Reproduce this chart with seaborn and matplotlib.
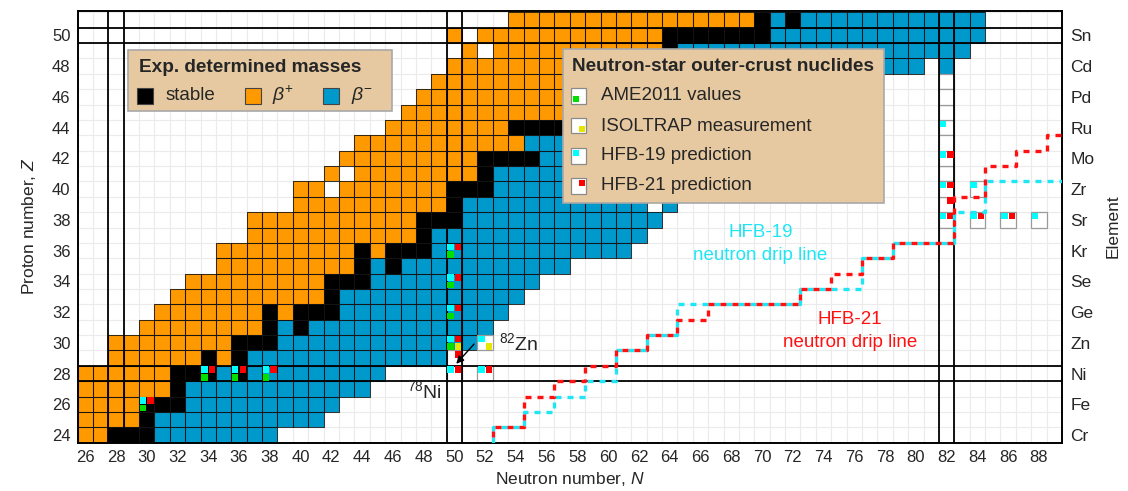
import numpy as np
import pandas as pd
import matplotlib
matplotlib.use("Agg")
import matplotlib.pyplot as plt
import seaborn as sns
from matplotlib.colors import ListedColormap
from matplotlib.patches import Rectangle
from matplotlib.collections import PatchCollection

# ---------------- data ----------------
Z_list = list(range(24, 52))
N_list = list(range(26, 90))

first_N = [26, 26, 26, 26, 26, 28, 28, 30, 31, 32, 33, 35, 35, 37,
           37, 40, 40, 42, 43, 44, 46, 47, 48, 49, 50, 51, 50, 54]
last_N = [38, 41, 42, 44, 45, 49, 51, 52, 53, 54, 55, 57, 61, 62,
          63, 64, 66, 67, 69, 70, 72, 74, 76, 77, 82, 83, 84, 84]
beta_minus_from = [31, 31, 33, 33, 35, 37, 39, 39, 43, 43, 45, 45, 49, 49,
                   51, 51, 53, 53, 56, 55, 59, 59, 61, 61, 65, 65, 71, 71]
stable_N = {24: [28, 29, 30], 25: [30], 26: [30, 31, 32], 27: [32],
            28: [32, 33, 34, 36], 29: [34, 36], 30: [36, 37, 38], 31: [38, 40],
            32: [38, 40, 41, 42], 33: [42], 34: [42, 43, 44], 35: [44, 46],
            36: [44, 46, 47, 48], 37: [48], 38: [48, 49, 50], 39: [50],
            40: [50, 51, 52], 41: [52], 42: [52, 53, 54, 55], 43: [],
            44: [54, 55, 56, 57, 58], 45: [58], 46: [58, 59, 60, 62],
            47: [60, 62], 48: [60, 62, 63, 64], 49: [64],
            50: [64, 65, 66, 67, 68, 69, 70], 51: [70, 72]}
missing_N = {39: [63], 40: [42], 41: [43], 48: [81], 49: [52], 50: [51]}

element_Z = [24, 26, 28, 30, 32, 34, 36, 38, 40, 42, 44, 46, 48, 50]
element_names = ["Cr", "Fe", "Ni", "Zn", "Ge", "Se", "Kr", "Sr", "Zr", "Mo",
                 "Ru", "Pd", "Cd", "Sn"]
x_ticks = list(range(26, 89, 2))
y_ticks = list(range(24, 51, 2))

# outer-crust nuclides (N, Z)
ame2011 = [(30, 26), (34, 28), (36, 28), (38, 28), (50, 30), (50, 32), (50, 34), (50, 36)]
isoltrap = [(50, 30), (52, 30)]
hfb19 = [(30, 26), (34, 28), (36, 28), (38, 28), (50, 28), (52, 28), (50, 30), (52, 30),
         (50, 32), (50, 34), (50, 36), (82, 38), (84, 38), (86, 38), (88, 38),
         (82, 40), (84, 40), (82, 42), (82, 44)]
hfb21 = [(30, 26), (34, 28), (36, 28), (38, 28), (50, 28), (52, 28), (50, 29), (50, 30),
         (50, 32), (50, 34), (50, 36), (82, 38), (84, 38), (86, 38), (82, 39),
         (82, 40), (82, 42)]
n82_column_Z = list(range(37, 48))

# neutron drip lines: step positions (N) and Z level reached at each step
hfb21_step_N = [52.5, 54.5, 56.5, 58.5, 60.5, 62.5, 64.5, 66.5, 72.5, 74.5, 76.5,
                78.5, 82.5, 84.5, 86.5, 88.5]
hfb21_step_Z = [24.5, 26.5, 27.5, 28.5, 29.5, 30.5, 31.5, 32.5, 33.5, 34.5, 35.5,
                36.5, 39.5, 41.5, 42.5, 43.5]
hfb19_step_N = [52.5, 54.5, 56.5, 58.5, 60.5, 62.5, 64.5, 72.5, 76.5, 78.5, 82.5, 84.5]
hfb19_step_Z = [24.5, 25.5, 26.5, 27.5, 29.5, 30.5, 32.5, 33.5, 35.5, 36.5, 38.5, 40.5]

magic_N = [28, 50, 82]
magic_Z = [28, 50]

# ---------------- style ----------------
ORANGE = "#ff9900"
BLUE = "#0099cc"
TAN = "#e6c9a1"
CYAN = "#00ffff"
RED = "#ff0000"
GREEN = "#00e000"
YELLOW = "#e6e600"
DRIP_CYAN = "#1ee6f5"
DRIP_RED = "#ff1111"

sns.set_theme(style="white")
plt.rcParams["font.family"] = ["Liberation Sans", "DejaVu Sans"]
plt.rcParams["mathtext.fontset"] = "custom"
plt.rcParams["mathtext.rm"] = "Liberation Sans"
plt.rcParams["mathtext.it"] = "Liberation Sans:italic"
plt.rcParams["mathtext.bf"] = "Liberation Sans:bold"

W, H = 1128, 491
fig = plt.figure(figsize=(W / 100, H / 100), dpi=100)
ax_l, ax_r, ax_b, ax_t = 77.5, 1062.0, 442.7, 10.5
ax = fig.add_axes([ax_l / W, 1 - ax_b / H, (ax_r - ax_l) / W, (ax_b - ax_t) / H])


def fx(n):
    return n - 25.5


def fy(z):
    return 51.5 - z


# grid of measured nuclides
grid = pd.DataFrame(np.nan, index=Z_list[::-1], columns=N_list)
for z, n0, n1, bm in zip(Z_list, first_N, last_N, beta_minus_from):
    for n in range(n0, n1 + 1):
        if n in missing_N.get(z, []):
            continue
        if n in stable_N[z]:
            v = 0
        elif n < bm:
            v = 1
        else:
            v = 2
        grid.loc[z, n] = v

sns.heatmap(grid, ax=ax, cmap=ListedColormap(["black", ORANGE, BLUE]),
            vmin=-0.5, vmax=2.5, cbar=False, linewidths=0,
            xticklabels=False, yticklabels=False)

ax.set_xlim(0, len(N_list))
ax.set_ylim(len(Z_list), -0.12)
ax.set_facecolor("white")

# faint background grid
for i in range(len(N_list) + 1):
    ax.axvline(i, color="#ebebeb", lw=0.8, zorder=0.5)
for j in range(len(Z_list) + 1):
    ax.axhline(j, color="#ebebeb", lw=0.8, zorder=0.5)

# dark outlines of the measured cells
measured = set()
outlines = []
for z in Z_list:
    for n in N_list:
        if not np.isnan(grid.loc[z, n]):
            measured.add((n, z))
            outlines.append(Rectangle((fx(n) - 0.5, fy(z) - 0.5), 1, 1))
ax.add_collection(PatchCollection(outlines, facecolor="none",
                                  edgecolor=(0.08, 0.08, 0.08, 0.85), linewidth=0.75, zorder=1.5))

# outer-crust cells that are not measured: white boxes with grey border
oc_cells = set(hfb19) | set(hfb21) | set(ame2011) | set(isoltrap) | {(82, z) for z in n82_column_Z}
for (n, z) in oc_cells:
    if (n, z) in measured:
        continue
    ax.add_patch(Rectangle((fx(n) - 0.5, fy(z) - 0.5), 1, 1, facecolor="white",
                           edgecolor="#9a9a9a", lw=0.9, zorder=2))


def quad(n, z, corner, color):
    s = 0.42
    dx = {"TL": 0.04, "TR": 0.54, "BL": 0.04, "BR": 0.54}[corner]
    dy = {"TL": 0.04, "TR": 0.04, "BL": 0.54, "BR": 0.54}[corner]
    ax.add_patch(Rectangle((fx(n) - 0.5 + dx, fy(z) - 0.5 + dy), s, s,
                           facecolor=color, edgecolor="none", zorder=4))


for (n, z) in hfb19:
    quad(n, z, "TL", CYAN)
for (n, z) in hfb21:
    quad(n, z, "TR", RED)
for (n, z) in ame2011:
    quad(n, z, "BL", GREEN)
for (n, z) in isoltrap:
    quad(n, z, "BR", YELLOW)

# magic-number double lines
for m in magic_N:
    for off in (-0.5, 0.5):
        ax.axvline(fx(m + off), color="black", lw=1.3, zorder=3)
for m in magic_Z:
    for off in (-0.5, 0.5):
        ax.axhline(fy(m + off), color="black", lw=1.3, zorder=3)


def staircase(step_n, step_z, start_z=23.5, end_n=89.5):
    xs, ys = [step_n[0]], [start_z]
    for i, (n, z) in enumerate(zip(step_n, step_z)):
        xs.append(n)
        ys.append(z)
        nxt = step_n[i + 1] if i + 1 < len(step_n) else end_n
        xs.append(nxt)
        ys.append(z)
    return [fx(v) for v in xs], [fy(v) for v in ys]


cx, cy = staircase(hfb19_step_N, hfb19_step_Z, start_z=23.5)
rx, ry = staircase(hfb21_step_N, hfb21_step_Z)
ax.plot(cx, cy, color=DRIP_CYAN, lw=2.4, linestyle=(0, (1.8, 1.8)), zorder=5,
        dash_capstyle="butt")
ax.plot(rx, ry, color=DRIP_RED, lw=2.4, linestyle=(1.8, (1.8, 1.8)), zorder=6,
        dash_capstyle="butt")

# annotations
ax.text(fx(69.9), fy(37.2), "HFB-19", color=DRIP_CYAN, fontsize=13.5, ha="center", va="center", zorder=7)
ax.text(fx(69.9), fy(35.7), "neutron drip line", color=DRIP_CYAN, fontsize=13.5, ha="center", va="center", zorder=7)
ax.text(fx(75.7), fy(31.5), "HFB-21", color=DRIP_RED, fontsize=13.5, ha="center", va="center", zorder=7)
ax.text(fx(75.7), fy(30.0), "neutron drip line", color=DRIP_RED, fontsize=13.5, ha="center", va="center", zorder=7)
ax.text(fx(52.92), fy(30.0), r"$^{82}\mathrm{Zn}$", fontsize=14, ha="left", va="center", zorder=7)
ax.text(fx(48.05), fy(26.86), r"$^{78}\mathrm{Ni}$", fontsize=14, ha="center", va="center", zorder=7)
ax.annotate("", xy=(fx(50.0), fy(28.5)), xytext=(fx(51.4), fy(30.05)),
            arrowprops=dict(arrowstyle="-|>", color="black", lw=1.0, mutation_scale=11), zorder=7)

# axes frame and ticks
for s in ax.spines.values():
    s.set_visible(True)
    s.set_color("black")
    s.set_linewidth(1.4)
ax.set_xticks([fx(n) for n in x_ticks])
ax.set_xticklabels([str(n) for n in x_ticks], fontsize=12)
ax.set_yticks([fy(z) for z in y_ticks])
ax.set_yticklabels([str(z) for z in y_ticks], fontsize=12, rotation=0)
ax.tick_params(length=0, pad=5)
ax.set_xlabel(r"Neutron number, $N$", fontsize=12.5, labelpad=4)
ax.set_ylabel(r"Proton number, $Z$", fontsize=12.5, labelpad=10)

ax2 = ax.twinx()
ax2.set_ylim(ax.get_ylim())
ax2.set_yticks([fy(z) for z in element_Z])
ax2.set_yticklabels(element_names, fontsize=12.5)
ax2.tick_params(length=0, pad=6)
for s in ax2.spines.values():
    s.set_visible(False)
ax2.set_ylabel("Element", fontsize=12.5, labelpad=8)
ax2.grid(False)


# ---------------- legends (drawn in figure pixels) ----------------
def P(x, y):
    return (x / W, 1 - y / H)


def box(x0, y0, x1, y1, **kw):
    r = Rectangle(P(x0, y1), (x1 - x0) / W, (y1 - y0) / H, transform=fig.transFigure, **kw)
    fig.add_artist(r)
    return r


box(128, 50, 392, 111, facecolor=TAN, edgecolor="#a8a8a8", lw=1.2, zorder=10)
fig.text(*P(139, 67), "Exp. determined masses", fontsize=13.7, fontweight="bold", va="center", ha="left", zorder=11)
for x0, col in [(137, "black"), (245, ORANGE), (323, BLUE)]:
    box(x0, 87.5, x0 + 16, 103.5, facecolor=col, edgecolor="#444444", lw=0.8, zorder=11)
fig.text(*P(166, 95.5), "stable", fontsize=13.5, va="center", ha="left", zorder=11)
fig.text(*P(272, 95.5), r"$\beta^{+}$", fontsize=14, va="center", ha="left", zorder=11)
fig.text(*P(351, 95.5), r"$\beta^{-}$", fontsize=14, va="center", ha="left", zorder=11)

box(563, 49, 884, 203, facecolor=TAN, edgecolor="#a8a8a8", lw=1.2, zorder=10)
fig.text(*P(572, 66.5), "Neutron-star outer-crust nuclides", fontsize=13.7, fontweight="bold",
         va="center", ha="left", zorder=11)
entries = [("AME2011 values", "BL", GREEN), ("ISOLTRAP measurement", "BR", YELLOW),
           ("HFB-19 prediction", "TL", CYAN), ("HFB-21 prediction", "TR", RED)]
for i, (label, corner, col) in enumerate(entries):
    yc = 96 + 30 * i
    box(571, yc - 7.5, 586, yc + 7.5, facecolor="white", edgecolor="#8a8a8a", lw=0.9, zorder=11)
    qx = 572.5 if corner in ("TL", "BL") else 578.5
    qy = yc - 6 if corner in ("TL", "TR") else yc
    box(qx, qy, qx + 6, qy + 6, facecolor=col, edgecolor="none", zorder=12)
    fig.text(*P(601, yc), label, fontsize=13.5, va="center", ha="left", zorder=11)

fig.savefig("out.png", dpi=100, facecolor="white")
